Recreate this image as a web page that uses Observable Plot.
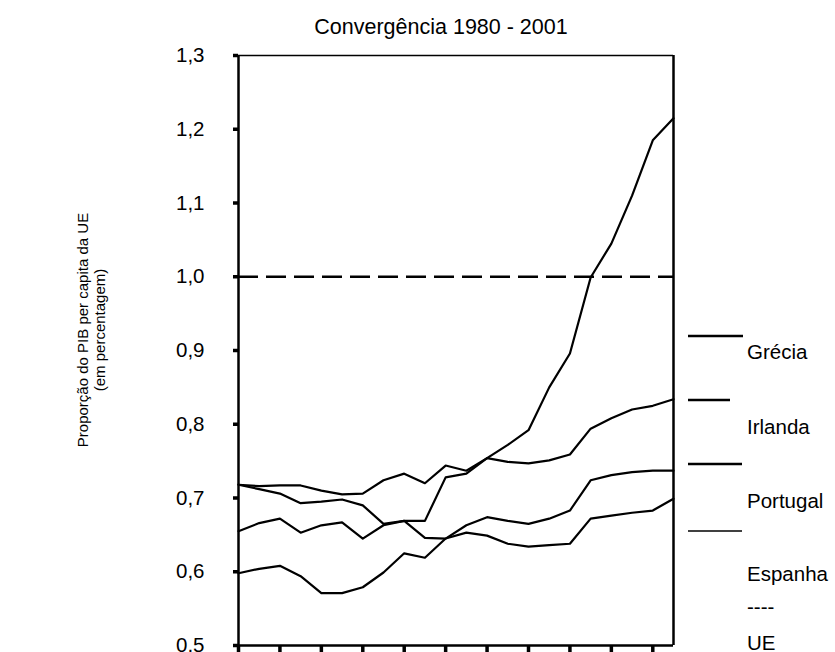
<!DOCTYPE html>
<html><head><meta charset="utf-8">
<script src="https://cdn.jsdelivr.net/npm/d3@7"></script>
<script src="https://cdn.jsdelivr.net/npm/@observablehq/plot@0.6"></script>
<style>body{margin:0;background:#fff} svg{display:block}</style>
</head><body><div id="chart"></div>
<script>
const title = "Convergência 1980 - 2001";
const yLabel = ["Proporção do PIB per capita da UE", "(em percentagem)"];
const years = [1980,1981,1982,1983,1984,1985,1986,1987,1988,1989,1990,1991,1992,1993,1994,1995,1996,1997,1998,1999,2000,2001];
const grecia   = [0.718,0.712,0.706,0.693,0.695,0.698,0.690,0.665,0.669,0.646,0.645,0.653,0.649,0.638,0.634,0.636,0.638,0.672,0.676,0.680,0.683,0.699];
const irlanda  = [0.655,0.666,0.672,0.653,0.663,0.667,0.645,0.663,0.669,0.669,0.728,0.733,0.754,0.772,0.792,0.850,0.896,0.999,1.045,1.110,1.185,1.215];
const portugal = [0.598,0.604,0.608,0.594,0.571,0.571,0.579,0.599,0.625,0.619,0.645,0.663,0.674,0.669,0.665,0.672,0.683,0.724,0.731,0.735,0.737,0.737];
const espanha  = [0.718,0.716,0.717,0.717,0.710,0.705,0.706,0.724,0.733,0.720,0.744,0.737,0.754,0.749,0.747,0.751,0.759,0.794,0.808,0.820,0.825,0.834];
const ueLevel = [1.0];
const series = ["Grécia", "Irlanda", "Portugal", "Espanha"];
const legendLabels = ["Grécia", "Irlanda", "Portugal", "Espanha", "----", "UE"];
const yTicks = [0.5, 0.6, 0.7, 0.8, 0.9, 1.0, 1.1, 1.2, 1.3];
const xTicks = [1980, 1982, 1984, 1986, 1988, 1990, 1992, 1994, 1996, 1998, 2000];

const seriesValues = [grecia, irlanda, portugal, espanha];
const data = series.flatMap((s, k) => years.map((yr, i) => ({serie: s, year: yr, value: seriesValues[k][i]})));

const font = "'Liberation Sans', Arial, Helvetica, sans-serif";
const fs = 20.5;

const chart = Plot.plot({
  width: 835, height: 652,
  marginLeft: 238, marginRight: 162, marginTop: 55, marginBottom: 7,
  style: {fontFamily: font, fontSize: fs + "px", background: "white", color: "black", overflow: "visible"},
  x: {domain: [1980, 2001]},
  y: {domain: [0.5, 1.3]},
  marks: [
    Plot.ruleY(ueLevel, {strokeDasharray: "20,8", strokeWidth: 2.5}),
    Plot.line(data, {x: "year", y: "value", z: "serie", stroke: "black", strokeWidth: 2.2}),
    Plot.ruleY([1.3], {strokeWidth: 1.5}),
    Plot.ruleY([0.5], {strokeWidth: 2.5}),
    Plot.ruleX([1980], {strokeWidth: 2.5}),
    Plot.ruleX([2001], {strokeWidth: 2.5}),
    Plot.axisY({ticks: yTicks, tickSize: 5, tickPadding: 29, strokeWidth: 3.5,
      tickFormat: d => d.toFixed(1).replace(".", ","), label: null, fontSize: fs}),
    Plot.axisX({ticks: xTicks, tickSize: 7, strokeWidth: 3.5, tickFormat: () => "", label: null}),
    Plot.text([title], {frameAnchor: "top", dy: -28, dx: -15, lineAnchor: "middle", fontSize: 21.5})
  ]
});
document.getElementById("chart").appendChild(chart);

// Legend and rotated y label (layout only)
const svg = d3.select(chart);
const legendLayout = {
  lines: [{y: 336, x2: 743, w: 2.5}, {y: 400, x2: 730, w: 2.5}, {y: 464, x2: 742, w: 2.5}, {y: 531, x2: 742, w: 1.5}],
  textY: [351, 426, 500, 573, 606, 642], x1: 688, textX: 747
};
const lg = svg.append("g").attr("text-anchor", "start");
series.forEach((s, i) => {
  const l = legendLayout.lines[i];
  lg.append("line").attr("x1", legendLayout.x1).attr("x2", l.x2).attr("y1", l.y).attr("y2", l.y)
    .attr("stroke", "black").attr("stroke-width", l.w);
});
legendLabels.forEach((t, i) => {
  lg.append("text").attr("x", legendLayout.textX).attr("y", legendLayout.textY[i])
    .attr("text-anchor", "start")
    .attr("dominant-baseline", "central").attr("font-size", fs).attr("font-family", font)
    .attr("fill", "black").text(t);
});
const yl = svg.append("text").attr("transform", "translate(91,330) rotate(-90)")
  .attr("text-anchor", "middle").attr("font-size", 15).attr("font-family", font).attr("fill", "black");
yLabel.forEach((t, i) => {
  yl.append("tspan").attr("x", 0).attr("y", i === 0 ? -8.5 : 8.5).attr("dominant-baseline", "central").text(t);
});
</script>
</body></html>
